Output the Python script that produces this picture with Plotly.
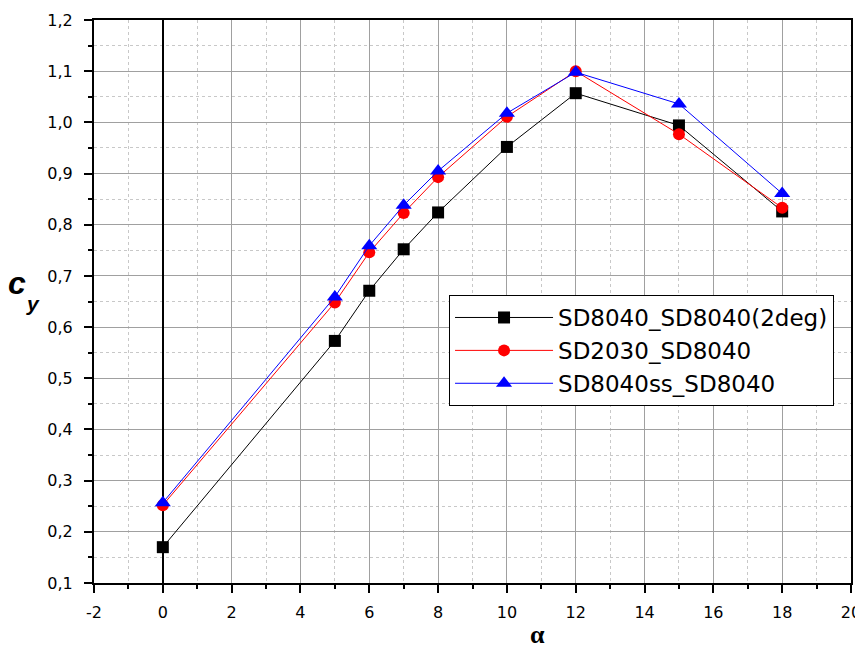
import plotly.graph_objects as go

alpha = [0, 5, 6, 7, 8, 10, 12, 15, 18]
cy_sd8040_2deg = [0.170, 0.573, 0.671, 0.752, 0.824, 0.952, 1.057, 0.994, 0.826]
cy_sd2030 = [0.252, 0.648, 0.746, 0.823, 0.893, 1.011, 1.100, 0.977, 0.833]
cy_sd8040ss = [0.257, 0.659, 0.759, 0.838, 0.905, 1.018, 1.098, 1.036, 0.861]

x_tick_vals = [-2, 0, 2, 4, 6, 8, 10, 12, 14, 16, 18, 20]
x_tick_labels = ["-2", "0", "2", "4", "6", "8", "10", "12", "14", "16", "18", "20"]

names = ["SD8040_SD8040(2deg)", "SD2030_SD8040", "SD8040ss_SD8040"]
colors = ["#000000", "#ff0000", "#0000ff"]
symbols = ["square", "circle", "triangle-up"]
sizes = [12, 12, 14]
series = [cy_sd8040_2deg, cy_sd2030, cy_sd8040ss]

FONT = "DejaVu Sans, Arial, sans-serif"

fig = go.Figure()
for i, (nm, ys) in enumerate(zip(names, series)):
    fig.add_trace(go.Scatter(
        x=alpha, y=ys, name=nm, mode="lines+markers",
        line=dict(color=colors[i], width=1),
        marker=dict(symbol=symbols[i], size=sizes[i], color=colors[i]),
        legendgroup=f"g{i}",
    ))

axis_common = dict(
    showline=True, linecolor="black", linewidth=2, mirror=True,
    ticks="outside", ticklen=8, tickwidth=2, tickcolor="black",
    showgrid=True, gridcolor="#a0a0a0", gridwidth=1,
    tickfont=dict(family=FONT, size=16, color="black"),
    automargin=False, ticklabeloverflow="allow",
)

# page body adds an 8px margin; size/margins compensate so the plot area
# lands at x 94..851, y 20..583 in the 863x648 window
fig.update_layout(
    width=855, height=640,
    paper_bgcolor="white", plot_bgcolor="white",
    margin=dict(l=86, r=12, t=12, b=65),
    separators=",.",
    showlegend=True,
    legend=dict(
        x=0.469, y=0.5115, xanchor="left", yanchor="top",
        bordercolor="black", borderwidth=1, bgcolor="white",
        font=dict(family=FONT, size=23, color="black"),
        itemwidth=98, tracegroupgap=0, traceorder="grouped",
    ),
    xaxis=dict(
        range=[-2, 20], tickmode="array", tickvals=x_tick_vals, ticktext=x_tick_labels,
        zeroline=True, zerolinecolor="black", zerolinewidth=2,
        ticklabelstandoff=6,
        minor=dict(dtick=1, tick0=0, ticks="outside", ticklen=4, tickwidth=2, tickcolor="black",
                   showgrid=True, gridcolor="#c8c8c8", griddash="dot", gridwidth=1),
        **axis_common,
    ),
    yaxis=dict(
        range=[0.1, 1.2], dtick=0.1, tick0=0.1, tickformat=".1f",
        zeroline=False, ticklabelstandoff=8,
        minor=dict(dtick=0.05, tick0=0.1, ticks="outside", ticklen=4, tickwidth=2, tickcolor="black",
                   showgrid=True, gridcolor="#c8c8c8", griddash="dot", gridwidth=1),
        **axis_common,
    ),
    annotations=[
        dict(text="<b><i>c</i></b>", xref="paper", yref="paper",
             x=-0.1017, y=0.532, xanchor="center", yanchor="middle", showarrow=False,
             font=dict(family="Liberation Sans, Arial, sans-serif", size=32, color="black")),
        dict(text="<b><i>y</i></b>", xref="paper", yref="paper",
             x=-0.0812, y=0.497, xanchor="center", yanchor="middle", showarrow=False,
             font=dict(family="Liberation Sans, Arial, sans-serif", size=21, color="black")),
        dict(text="<b>α</b>", xref="paper", yref="paper",
             x=0.5865, y=-0.0906, xanchor="center", yanchor="middle", showarrow=False,
             font=dict(family="Liberation Serif, Times New Roman, serif", size=26, color="black")),
    ],
)

fig.write_html("out.html")
